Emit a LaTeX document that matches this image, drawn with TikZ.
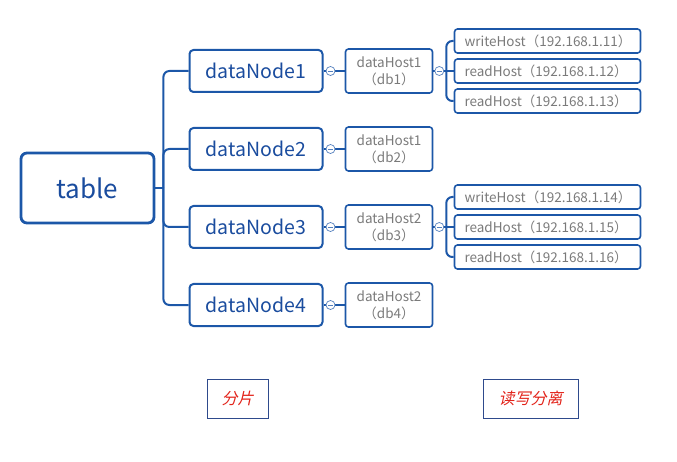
\documentclass[tikz,border=0pt]{standalone}
\usepackage{fontspec}
\usepackage{xcolor}
\setmainfont{Noto Sans CJK SC}
\newfontfamily\cjkit[FakeSlant=0.22]{Noto Sans CJK SC}
\definecolor{mapblue}{HTML}{1C57A8}
\definecolor{textblue}{HTML}{1A4C9E}
\definecolor{hostgray}{HTML}{7A7A7A}
\definecolor{notenavy}{HTML}{2E4A8C}
\definecolor{notered}{HTML}{E2231A}
\tikzset{
	rootbox/.style={rectangle,draw=mapblue,line width=2.8pt,rounded corners=6pt,minimum width=133pt,minimum height=70pt,text=textblue,font=\fontsize{26}{30}\selectfont},
	nodebox/.style={rectangle,draw=mapblue,line width=2pt,rounded corners=4pt,minimum width=133pt,minimum height=42pt,text=textblue,font=\fontsize{19.5}{22}\selectfont},
	dhbox/.style={rectangle,draw=mapblue,line width=1.6pt,rounded corners=3pt,minimum width=87pt,minimum height=44pt,inner sep=1pt,align=center,text=hostgray,font=\fontsize{13.5}{17}\selectfont},
	hostbox/.style={rectangle,draw=mapblue,line width=1.6pt,rounded corners=3pt,minimum height=24pt,inner xsep=10pt,inner ysep=0pt,text width=166pt,align=left,text=hostgray,font=\fontsize{13.5}{15}\selectfont},
	notebox/.style={rectangle,draw=notenavy,line width=0.9pt,minimum height=39pt,text=notered,font=\cjkit\fontsize{16}{18}\selectfont},
	link/.style={draw=mapblue,line width=2pt,rounded corners=6pt},
	fold/.style={circle,draw=mapblue!75,fill=white,line width=0.7pt,minimum size=9pt,inner sep=0pt,
		path picture={\draw[mapblue!75,line width=0.7pt] ([xshift=2pt]path picture bounding box.west) -- ([xshift=-2pt]path picture bounding box.east);}}
}
\begin{document}
\begin{tikzpicture}[
	x=1pt,
	y=-1pt
]
	\useasboundingbox (0,0) rectangle (677,462);
	\node[rootbox] (table) at (87.5,188) {table};
	\node[nodebox] (dn1) at (256,71) {dataNode1};
	\node[nodebox] (dn2) at (256,149) {dataNode2};
	\node[nodebox] (dn3) at (256,227) {dataNode3};
	\node[nodebox] (dn4) at (256,305) {dataNode4};
	\node[dhbox] (dh1) at (389,71) {dataHost1\\（db1）};
	\node[dhbox] (dh2) at (389,149) {dataHost1\\（db2）};
	\node[dhbox] (dh3) at (389,227) {dataHost2\\（db3）};
	\node[dhbox] (dh4) at (389,305) {dataHost2\\（db4）};
	\node[hostbox] (w1) at (547.5,41) {writeHost（192.168.1.11）};
	\node[hostbox] (r1) at (547.5,71) {readHost（192.168.1.12）};
	\node[hostbox] (r2) at (547.5,101) {readHost（192.168.1.13）};
	\node[hostbox] (w2) at (547.5,197) {writeHost（192.168.1.14）};
	\node[hostbox] (r3) at (547.5,227) {readHost（192.168.1.15）};
	\node[hostbox] (r4) at (547.5,257) {readHost（192.168.1.16）};
	\node[notebox,minimum width=61pt] (shard) at (237.5,398.5) {分片};
	\node[notebox,minimum width=95pt] (rwsplit) at (530.5,398.5) {读写分离};
	\coordinate (trunk) at ([xshift=8pt]table.east);
	\draw[link] (table.east) -- (trunk);
	\draw[link] (trunk) |- (dn1.west);
	\draw[link] (trunk) |- (dn2.west);
	\draw[link] (trunk) |- (dn3.west);
	\draw[link] (trunk) |- (dn4.west);
	\draw[link] (dn1.east) -- (dh1.west);
	\draw[link] (dn2.east) -- (dh2.west);
	\draw[link] (dn3.east) -- (dh3.west);
	\draw[link] (dn4.east) -- (dh4.west);
	\coordinate (hk1) at ([xshift=13pt]dh1.east);
	\coordinate (hk3) at ([xshift=13pt]dh3.east);
	\draw[link] (dh1.east) -- (hk1);
	\draw[link] (hk1) |- (w1.west);
	\draw[link] (hk1) -- (r1.west);
	\draw[link] (hk1) |- (r2.west);
	\draw[link] (dh3.east) -- (hk3);
	\draw[link] (hk3) |- (w2.west);
	\draw[link] (hk3) -- (r3.west);
	\draw[link] (hk3) |- (r4.west);
	\node[fold] (f1) at ([xshift=7pt]dn1.east) {};
	\node[fold] (f2) at ([xshift=7pt]dn2.east) {};
	\node[fold] (f3) at ([xshift=7pt]dn3.east) {};
	\node[fold] (f4) at ([xshift=7pt]dn4.east) {};
	\node[fold] (g1) at ([xshift=6pt]dh1.east) {};
	\node[fold] (g3) at ([xshift=6pt]dh3.east) {};
\end{tikzpicture}
\end{document}
